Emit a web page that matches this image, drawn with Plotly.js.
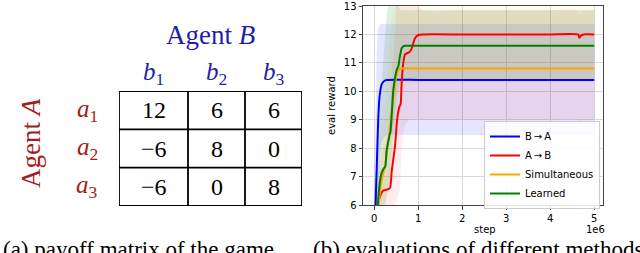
<!DOCTYPE html>
<html><head><meta charset="utf-8">
<script src="https://cdn.plot.ly/plotly-3.0.1.min.js"></script>
<style>html,body{margin:0;padding:0;background:#fff;}#plot{width:640px;height:253px;}</style>
</head><body><div id="plot"></div>
<script>
// ---------- payoff matrix data ----------
const rowLabels = ['a', 'a', 'a'];
const rowSubs = ['1', '2', '3'];
const colLabels = ['b', 'b', 'b'];
const colSubs = ['1', '2', '3'];
const payoff = [[12, 6, 6], [-6, 8, 0], [-6, 0, 8]];

// ---------- evaluation curves (x in units of 1e6 steps) ----------
const baX   = [0.0, 0.03, 0.06, 0.09, 0.12, 0.17, 0.24, 0.3, 1, 2, 3, 4, 5];
const baY   = [4.0, 6.0, 7.5, 9.0, 9.8, 10.25, 10.38, 10.4, 10.4, 10.4, 10.4, 10.4, 10.4];
const baHi  = [6.5, 9.0, 11.5, 12.2, 12.35, 12.37, 12.37, 12.37, 12.37, 12.37, 12.37, 12.37, 12.37];
const baLo  = [3.0, 4.0, 5.0, 6.2, 7.5, 8.2, 8.4, 8.46, 8.46, 8.46, 8.46, 8.46, 8.46];

const abX   = [0.0, 0.085, 0.13, 0.2, 0.3, 0.36, 0.395, 0.47, 0.52, 0.57, 0.6, 0.62, 0.66, 0.7, 0.8, 0.85, 0.92, 1.0, 1.1, 2, 3, 4, 4.64, 4.66, 4.7, 4.75, 5.0];
const abY   = [4.0, 6.0, 6.3, 6.5, 6.55, 6.6, 7.17, 8.05, 9.0, 9.45, 9.55, 10.2, 11.0, 11.3, 11.38, 11.5, 11.85, 11.98, 12.0, 12.0, 12.0, 12.0, 12.0, 11.88, 11.95, 12.0, 12.0];
const abHi  = [5.0, 7.0, 7.5, 8.0, 8.5, 9.5, 10.5, 12.0, 13.5, 14.0, 14.5, 14.5, 14.5, 14.5, 14.0, 13.5, 13.2, 13.0, 12.85, 12.85, 12.85, 12.85, 12.85, 12.7, 12.85, 12.85, 12.85];
const abLo  = [3.0, 4.5, 5.0, 5.3, 5.5, 5.6, 5.8, 6.0, 6.2, 6.5, 7.0, 7.8, 8.5, 8.8, 9.0, 9.0, 9.0, 9.0, 9.0, 9.0, 9.0, 9.0, 9.0, 8.8, 9.0, 9.0, 9.0];

const siX   = [0.0, 0.1, 0.15, 0.2, 0.25, 0.3, 0.35, 0.4, 0.45, 0.5, 0.55, 0.6, 1, 2, 3, 4, 5];
const siY   = [4.0, 6.0, 6.7, 7.1, 7.4, 8.0, 8.6, 9.3, 10.0, 10.5, 10.75, 10.8, 10.8, 10.8, 10.8, 10.8, 10.8];
const siHi  = [6.5, 8.0, 8.6, 9.0, 9.6, 10.6, 11.6, 12.4, 12.9, 12.95, 12.95, 12.95, 12.95, 12.95, 12.95, 12.95, 12.95];
const siLo  = [3.0, 4.5, 5.5, 6.0, 6.2, 6.5, 7.0, 7.5, 8.3, 9.0, 9.6, 10.0, 10.35, 10.35, 10.35, 10.35, 10.35];

const leX   = [0.0, 0.08, 0.12, 0.16, 0.2, 0.25, 0.28, 0.34, 0.37, 0.39, 0.43, 0.48, 0.51, 0.55, 0.58, 0.62, 0.66, 0.7, 1, 2, 3, 4, 5];
const leY   = [4.0, 6.0, 6.7, 7.1, 7.25, 7.35, 7.9, 8.4, 8.6, 9.0, 10.0, 10.55, 10.75, 10.9, 11.2, 11.5, 11.58, 11.6, 11.6, 11.6, 11.6, 11.6, 11.6];
const leHi  = [6.5, 8.0, 9.0, 10.0, 11.0, 12.0, 12.6, 13.3, 13.6, 13.6, 13.5, 13.3, 13.1, 13.0, 12.9, 12.85, 12.85, 12.85, 12.85, 12.85, 12.85, 12.85, 12.85];
const leLo  = [3.0, 4.0, 5.0, 5.5, 5.8, 6.0, 6.3, 6.8, 7.2, 7.6, 8.5, 9.3, 9.8, 10.1, 10.25, 10.3, 10.33, 10.35, 10.35, 10.35, 10.35, 10.35, 10.35];

const yTicks = [6, 7, 8, 9, 10, 11, 12, 13];
const xTicks = [0, 1, 2, 3, 4, 5];

// ---------- helpers ----------
const W = 640, H = 253;
const px = p => p / W;
const py = p => 1 - p / H;
const colWidths = [69, 57, 57];
const colEdges = colWidths.reduce((a, w) => { a.push(a[a.length - 1] + w / 57); return a; }, [0]);
const colCenters = colWidths.map((w, i) => (colEdges[i] + colEdges[i + 1]) / 2);

const BLUE_T = '#1f1fa6', RED_T = '#a31c1c';
const serif = '"Liberation Serif", "Times New Roman", serif';
const sans = '"DejaVu Sans", sans-serif';

const traces = [];
function band(x, lo, hi, color) {
  traces.push({x: x, y: hi, mode: 'lines', line: {width: 0, shape: 'spline', smoothing: 0.6}, showlegend: false, hoverinfo: 'skip', xaxis: 'x', yaxis: 'y'});
  traces.push({x: x, y: lo, mode: 'lines', line: {width: 0, shape: 'spline', smoothing: 0.6}, fill: 'tonexty', fillcolor: color, showlegend: false, hoverinfo: 'skip', xaxis: 'x', yaxis: 'y'});
}
band(baX, baLo, baHi, 'rgba(0,0,255,0.10)');
band(abX, abLo, abHi, 'rgba(255,0,0,0.07)');
band(siX, siLo, siHi, 'rgba(255,165,0,0.07)');
band(leX, leLo, leHi, 'rgba(0,128,0,0.12)');

function line(x, y, color, name) {
  traces.push({x: x, y: y, mode: 'lines', name: name, line: {color: color, width: 2, shape: 'spline', smoothing: 0.5}, xaxis: 'x', yaxis: 'y'});
}
line(baX, baY, '#0000ff', 'B\u2009\u2192\u2009A');
line(abX, abY, '#ff0000', 'A\u2009\u2192\u2009B');
line(siX, siY, '#ffa500', 'Simultaneous');
line(leX, leY, '#008000', 'Learned');

// invisible anchor trace so the table axes exist
traces.push({x: [0, colEdges[3]], y: [0, 3], mode: 'markers', marker: {opacity: 0, size: 1}, showlegend: false, hoverinfo: 'skip', xaxis: 'x2', yaxis: 'y2'});

// table grid shapes
const shapes = [];
shapes.push({type: 'rect', xref: 'x2', yref: 'y2', x0: 0, x1: colEdges[3], y0: 0, y1: 3, line: {color: '#000', width: 1.8}});
for (let i = 1; i < 3; i++) {
  shapes.push({type: 'line', xref: 'x2', yref: 'y2', x0: colEdges[i], x1: colEdges[i], y0: 0, y1: 3, line: {color: '#000', width: 1.8}});
  shapes.push({type: 'line', xref: 'x2', yref: 'y2', x0: 0, x1: colEdges[3], y0: i, y1: i, line: {color: '#000', width: 1.8}});
}

const annotations = [];
// payoff numbers placed through the table axes
payoff.forEach((row, r) => row.forEach((v, c) => {
  annotations.push({xref: 'x2', yref: 'y2', x: colCenters[c], y: r + 0.5, text: v < 0 ? '\u2212' + Math.abs(v) : String(v),
    showarrow: false, xanchor: 'center', yanchor: 'middle', font: {family: serif, size: 24, color: '#000'}});
}));
colLabels.forEach((t, i) => annotations.push({xref: 'x2', yref: 'paper', x: colCenters[i], y: py(73), text: '<i>' + t + '</i><sub>' + colSubs[i] + '</sub>', showarrow: false, xanchor: 'center', yanchor: 'middle', font: {family: serif, size: 25, color: BLUE_T}}));
rowLabels.forEach((t, i) => annotations.push({xref: 'paper', yref: 'y2', x: px(87), y: i + 0.5, text: '<i>' + t + '</i><sub>' + rowSubs[i] + '</sub>', showarrow: false, xanchor: 'center', yanchor: 'middle', font: {family: serif, size: 25, color: RED_T}}));
annotations.push({xref: 'paper', yref: 'paper', x: px(210), y: py(35), text: 'Agent <i>B</i>', showarrow: false, xanchor: 'center', yanchor: 'middle', font: {family: serif, size: 27, color: BLUE_T}});
annotations.push({xref: 'paper', yref: 'paper', x: px(31), y: py(143), text: 'Agent <i>A</i>', textangle: -90, showarrow: false, xanchor: 'center', yanchor: 'middle', font: {family: serif, size: 27, color: RED_T}});
// axis titles of the plot
annotations.push({xref: 'paper', yref: 'paper', x: px(485), y: py(229), text: 'step', showarrow: false, xanchor: 'center', yanchor: 'middle', font: {family: sans, size: 10, color: '#000'}});
annotations.push({xref: 'paper', yref: 'paper', x: px(595), y: py(229), text: '1e6', showarrow: false, xanchor: 'center', yanchor: 'middle', font: {family: sans, size: 10, color: '#000'}});
annotations.push({xref: 'paper', yref: 'paper', x: px(331), y: py(106), text: 'eval reward', textangle: -90, showarrow: false, xanchor: 'center', yanchor: 'middle', font: {family: sans, size: 10, color: '#000'}});
// captions (cut off at the bottom as in the source)
annotations.push({xref: 'paper', yref: 'paper', x: px(1), y: py(235), text: '(a) payoff matrix of the game', showarrow: false, xanchor: 'left', yanchor: 'top', font: {family: serif, size: 23, color: '#000'}});
annotations.push({xref: 'paper', yref: 'paper', x: px(311), y: py(235), text: '(b) evaluations of different methods', showarrow: false, xanchor: 'left', yanchor: 'top', font: {family: serif, size: 23, color: '#000'}});

const layout = {
  width: W, height: H, margin: {l: 0, r: 0, t: 0, b: 0}, paper_bgcolor: '#fff', plot_bgcolor: '#fff',
  showlegend: true,
  xaxis: {domain: [px(363), px(603)], range: [-0.256, 5.2], tickvals: xTicks, ticktext: xTicks.map(String),
    showgrid: true, gridcolor: '#d9d9d9', gridwidth: 1, zeroline: false, showline: true, linecolor: '#444', linewidth: 1, mirror: true,
    ticks: 'outside', ticklen: 3.5, tickcolor: '#444', tickfont: {family: sans, size: 10, color: '#000'}, anchor: 'y', fixedrange: true},
  yaxis: {domain: [py(205), py(6)], range: [6, 13], tickvals: yTicks, ticktext: yTicks.map(String),
    showgrid: true, gridcolor: '#d9d9d9', gridwidth: 1, zeroline: false, showline: true, linecolor: '#444', linewidth: 1, mirror: true,
    ticks: 'outside', ticklen: 3.5, tickcolor: '#444', tickfont: {family: sans, size: 10, color: '#000'}, anchor: 'x', fixedrange: true},
  xaxis2: {domain: [px(119), px(302)], range: [0, colEdges[3]], visible: false, anchor: 'y2', fixedrange: true},
  yaxis2: {domain: [py(206), py(91)], range: [3, 0], visible: false, anchor: 'x2', fixedrange: true},
  legend: {x: px(484), y: py(121), xanchor: 'left', yanchor: 'top', bgcolor: 'rgba(255,255,255,0.85)', bordercolor: '#cccccc', borderwidth: 1,
    font: {family: sans, size: 10, color: '#000'}, itemwidth: 30, tracegroupgap: 0, traceorder: 'normal'},
  shapes: shapes, annotations: annotations
};
Plotly.newPlot('plot', traces, layout, {staticPlot: true, displayModeBar: false});
</script></body></html>
